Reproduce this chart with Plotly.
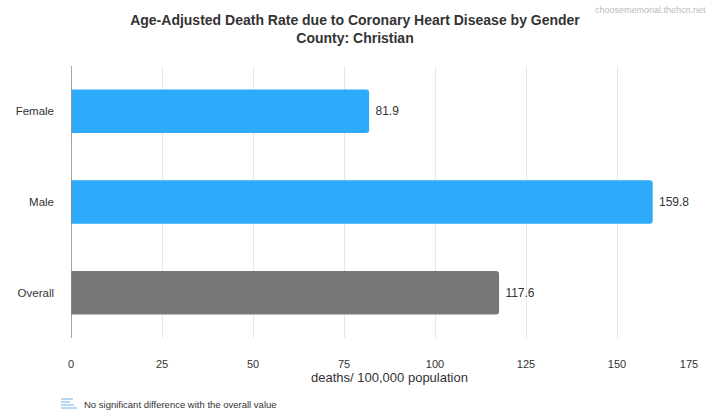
import plotly.graph_objects as go

categories = ["Female", "Male", "Overall"]
values = [81.9, 159.8, 117.6]
colors = ["#2DAAFA", "#2DAAFA", "#777777"]
x_ticks = [0, 25, 50, 75, 100, 125, 150]
x_last_tick = [175]

W, H = 708, 414
ml, mr, mt, mb = 71, 0, 66, 76
PW, PH = W - ml - mr, H - mt - mb


def px_x(x):
    return (x - ml) / PW


def px_y(y):
    return (H - mb - y) / PH


fig = go.Figure()
fig.add_trace(go.Bar(
    y=categories, x=values, orientation="h",
    marker=dict(color=colors, cornerradius=3, line=dict(width=0)),
    width=0.48,
    text=["\u00a0" + f"{v:.1f}" for v in values], textposition="outside",
    textfont=dict(size=12, color="#333333", family="Liberation Sans, Arial"),
    cliponaxis=False,
))
# invisible helper trace on the secondary x axis (carries the last tick label)
fig.add_trace(go.Bar(y=[categories[0]], x=[0], orientation="h", xaxis="x2",
                     marker=dict(color="rgba(0,0,0,0)"), hoverinfo="skip", showlegend=False))

fig.update_layout(
    width=W, height=H,
    margin=dict(l=ml, r=mr, t=mt, b=mb, autoexpand=False),
    plot_bgcolor="white", paper_bgcolor="white",
    font=dict(family="Liberation Sans, Arial", color="#333333", size=11),
    showlegend=False,
    barmode="overlay",
    title=dict(
        text="<b>Age-Adjusted Death Rate due to Coronary Heart Disease by Gender</b><br><b>County: Christian</b>",
        x=px_x(355), xanchor="center", xref="paper", y=(H - 25) / H, yanchor="top",
        font=dict(size=14, color="#333333", family="Liberation Sans, Arial"),
    ),
    xaxis=dict(
        range=[0, 175], tickvals=x_ticks, showgrid=True, gridcolor="#E6E6E6",
        gridwidth=1, zeroline=False, showline=False, ticks="", automargin=False,
        ticklabelstandoff=18,
        tickfont=dict(size=11, color="#333333"),
        title=dict(text="deaths/ 100,000 population", font=dict(size=13, color="#333333"), standoff=2),
    ),
    xaxis2=dict(
        range=[0, 175], tickvals=x_last_tick, overlaying="x", side="bottom", anchor="y",
        showgrid=False, zeroline=False, showline=False, ticks="", automargin=False,
        ticklabelstandoff=18, ticklabelshift=-19,
        tickfont=dict(size=11, color="#333333"),
    ),
    yaxis=dict(
        categoryorder="array", categoryarray=categories[::-1],
        showgrid=False, zeroline=False, showline=False, ticks="", automargin=False,
        ticklabelstandoff=16,
        tickfont=dict(size=11.5, color="#333333"),
    ),
)

# vertical axis line at x=0
fig.add_shape(type="line", xref="x", yref="paper", x0=0, x1=0, y0=0, y1=1.0,
              line=dict(color="#888888", width=1.5))

# watermark
fig.add_annotation(text="choosememorial.thehcn.net", xref="paper", yref="paper",
                   x=px_x(708), y=px_y(3), xanchor="right", yanchor="top", showarrow=False,
                   font=dict(size=9, color="#BBBBBB"))

# legend icon (horizontal lines) and text
icon_y = [399, 402, 405, 408]
icon_len = [12, 9, 13, 16]
for yy, ln in zip(icon_y, icon_len):
    fig.add_shape(type="line", xref="paper", yref="paper",
                  x0=px_x(61), x1=px_x(61 + ln),
                  y0=px_y(yy), y1=px_y(yy),
                  line=dict(color="#9FC8EE", width=1.5))
fig.add_annotation(text="No significant difference with the overall value", xref="paper", yref="paper",
                   x=px_x(82), y=px_y(404), xanchor="left", yanchor="middle", showarrow=False,
                   font=dict(size=9.5, color="#333333"))

fig.write_html("out.html", config={"displayModeBar": False},
               post_script="document.body.style.margin='0';document.body.style.overflow='hidden';")
